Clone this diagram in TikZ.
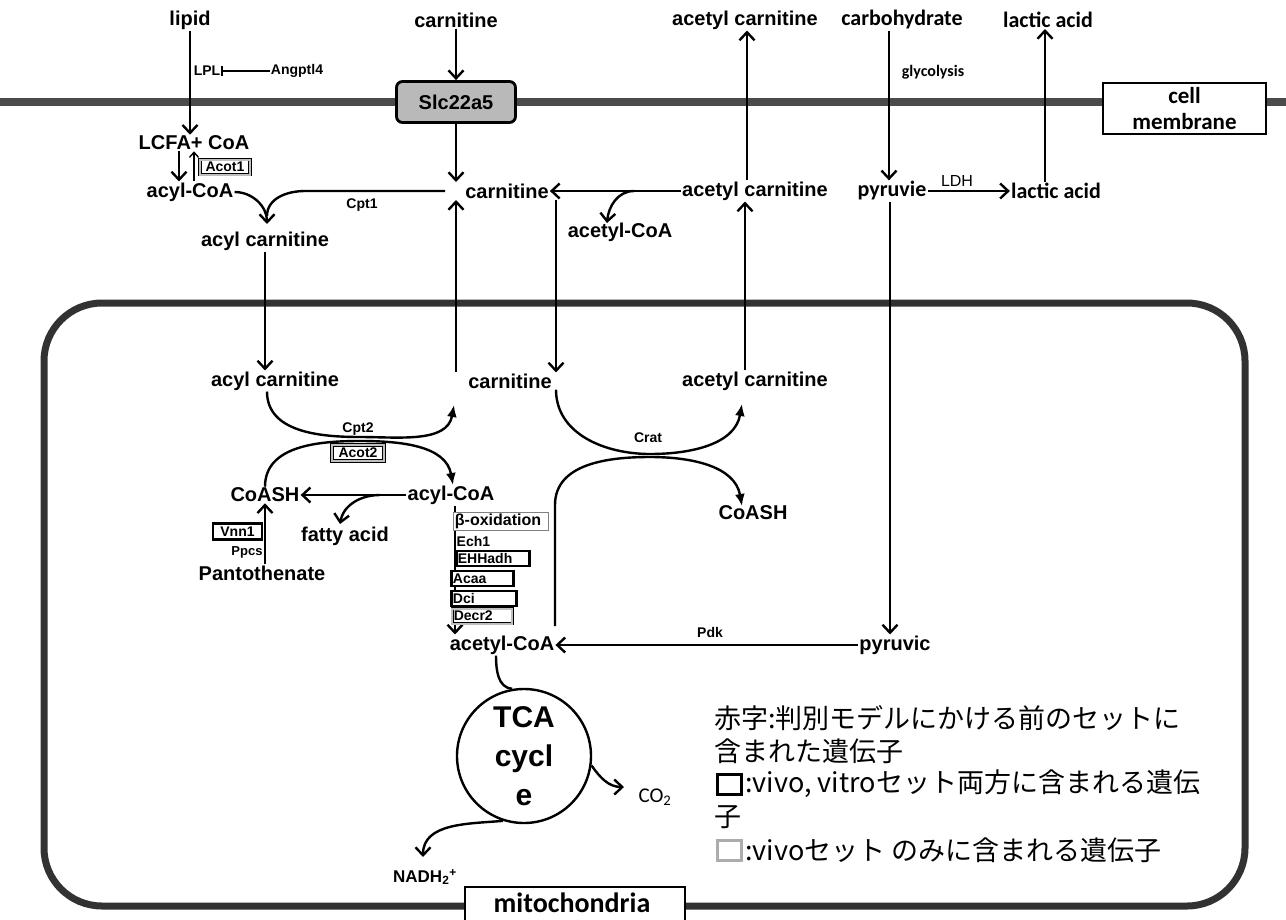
\documentclass[tikz,border=0pt]{standalone}
\usepackage{fontspec}
\setmainfont{Liberation Sans}
\newfontfamily\calfont{Carlito}
\newfontfamily\jpfont{Noto Sans CJK JP}
\usetikzlibrary{arrows.meta}
\definecolor{membc}{RGB}{75,75,75}
\definecolor{mitoc}{RGB}{50,50,50}
\tikzset{
  lab/.style={font=\bfseries\fontsize{20}{22}\selectfont, inner sep=1pt},
  clab/.style={font=\calfont\bfseries\fontsize{22}{24}\selectfont, inner sep=1pt},
  sm/.style={font=\bfseries\fontsize{14}{15}\selectfont, inner sep=1pt},
  enz/.style={font=\bfseries\fontsize{14}{15}\selectfont, inner sep=1.5pt, align=left},
  bothbox/.style={draw=black, line width=2.8pt, fill=white},
  vivobox/.style={draw=black, line width=0.7pt, double=gray!50, double distance=2pt, fill=white},
  arr/.style={line width=2.4pt, -{Straight Barb[length=8pt,width=15pt,line width=2.4pt]}},
  tarr/.style={line width=1.4pt, -{Straight Barb[length=5pt,width=9pt,line width=1.4pt]}},
  farr/.style={line width=2.4pt, -{Latex[length=12pt,width=10pt]}},
  plain/.style={line width=2.4pt},
  leg/.style={font=\jpfont\fontsize{27}{30}\selectfont, inner sep=0pt, anchor=west},
}
\begin{document}
\begin{tikzpicture}[x=1pt,y=-1pt]
\useasboundingbox (0,0) rectangle (1286,919);
% membranes
\draw[line width=8pt, membc] (0,102) -- (1286,102);
\draw[line width=7pt, mitoc, rounded corners=58pt] (44,303) rectangle (1245,906);
% helper x coordinates
\coordinate (x455) at (455,0);
\coordinate (x556) at (556,0);
\coordinate (x745) at (745,0);
\coordinate (x747) at (747,0);
\coordinate (x889) at (889,0);
\coordinate (x890) at (890,0);
\coordinate (x1045) at (1045,0);
% ---------- top row ----------
\node[lab] (lipid) at (190,20) {lipid};
\node[lab] (carn0) at (456,20) {carnitine};
\node[lab] (acar0) at (745,20) {acetyl carnitine};
\node[clab] (carb) at (902,20) {carbohydrate};
\node[clab] (lac0) at (1048,20) {lactic acid};
\node[sm] (lpl) at (207,71) {LPL};
\node[sm] (ang) at (297,71) {Angptl4};
\draw[line width=1.8pt, -{Bar[width=10pt,line width=1.8pt]}] (ang.west) -- (lpl.east);
\node[font=\calfont\bfseries\fontsize{16}{17}\selectfont] (glyc) at (933,72) {glycolysis};
% boxes on membrane
\node[draw, line width=2.8pt, rounded corners=6pt, fill=gray!55, minimum width=119pt, minimum height=41pt, font=\bfseries\fontsize{20}{22}\selectfont] (slc) at (456,102) {Slc22a5};
\node[draw, line width=2.2pt, fill=white, minimum width=163pt, minimum height=51pt, align=center, font=\calfont\bfseries\fontsize{23}{26}\selectfont, inner sep=0pt] (cm) at (1184.5,108.5) {cell\\membrane};
% ---------- cytosol ----------
\node[lab] (lcfa) at (194,143) {LCFA+ CoA};
\node[lab] (acylcoa1) at (190,192) {acyl-CoA};
\node[vivobox, enz, minimum width=50pt, minimum height=15pt, inner sep=0.5pt] (acot1) at (225,167) {Acot1};
\node[lab] (acarn1) at (265,241) {acyl carnitine};
\node[lab] (carn1) at (507,191) {carnitine};
\node[lab] (acar1) at (755,191) {acetyl carnitine};
\node[lab] (acoa1) at (620,232) {acetyl-CoA};
\node[clab] (pyr1) at (892,191) {pyruvie};
\node[clab] (lac1) at (1056,191) {lactic acid};
\node[font=\fontsize{16}{17}\selectfont, inner sep=1pt] (ldh) at (957,181) {LDH};
\node[sm] (cpt1) at (362,205) {Cpt1};
\coordinate (cj) at (456,191);
\coordinate (cptj) at (445,191);
\coordinate (cpt1tip) at (267,224);
\coordinate (br1) at (634,191);
\coordinate (acoa1tip) at (607,223);
% connectors cytosol
\draw[arr] (lipid.south) -- (lipid.south |- lcfa.north);
\draw[arr] (carn0.south) -- (slc.north);
\draw[arr] (slc.south) -- ([yshift=9pt]cj);
\draw[arr] ([xshift=-15pt]lcfa.south) -- ([xshift=-11pt]acylcoa1.north);
\draw[tarr] ([xshift=4pt]acylcoa1.north) -- (lcfa.south);
\draw[arr] (acylcoa1.east) to[out=0,in=90] (cpt1tip);
\draw[plain] (cptj) -- (305,191) to[out=180,in=90] (267,216);
\draw[arr] (acar1.west) -- (carn1.east);
\draw[arr] (br1) to[out=180,in=85] (acoa1tip);
\draw[arr] (acar1.north -| x747) -- (acar0.south -| x747);
\draw[arr] (carb.south -| x889) -- (pyr1.north -| x889);
\draw[arr] (pyr1.east) -- (lac1.west);
\draw[arr] (lac1.north -| x1045) -- (lac0.south -| x1045);
% ---------- mitochondria ----------
\node[lab] (acarn2) at (275,381) {acyl carnitine};
\node[lab] (carn2) at (510,381) {carnitine};
\node[lab] (acar2) at (755,381) {acetyl carnitine};
\node[lab] (coash1) at (265,495) {CoASH};
\node[lab] (acylcoa2) at (451,495) {acyl-CoA};
\node[lab] (fa) at (345,536) {fatty acid};
\node[lab] (pant) at (262,573) {Pantothenate};
\node[lab] (coash2) at (753,513) {CoASH};
\node[lab] (acoa2) at (502,645) {acetyl-CoA};
\node[lab] (pyr2) at (895,645) {pyruvic};
\node[sm] (cpt2) at (358,429) {Cpt2};
\node[sm] (crat) at (648,438) {Crat};
\node[sm] (pdk) at (710,632) {Pdk};
\node[font=\bfseries\fontsize{13}{14}\selectfont, inner sep=0.5pt] (ppcs) at (247,552) {Ppcs};
\coordinate (cpt2x) at (360,437);
\coordinate (cpt2y) at (360,441);
\coordinate (cpt2t1) at (454,405);
\coordinate (cpt2t2) at (453,485);
\coordinate (br2) at (380,495);
\coordinate (fatip) at (340,524);
\coordinate (cratx) at (650,454);
\coordinate (craty) at (650,457);
\coordinate (cratt1) at (742,404);
\coordinate (cratt2) at (742,506);
\coordinate (crats) at (555,626);
% connectors into mitochondria
\draw[arr] (acarn1.south) -- (acarn1.south |- acarn2.north);
\draw[arr] (carn2.north -| cj) -- ([yshift=-9pt]cj);
\draw[arr] (carn1.south -| x556) -- (carn2.north -| x556);
\draw[arr] (acar2.north -| x745) -- (acar1.south -| x745);
\draw[arr] (pyr1.south -| x890) -- (pyr2.north -| x890);
% Cpt2 exchange
\draw[farr] ([xshift=-8pt]acarn2.south) to[out=-90,in=180] (cpt2x) to[out=0,in=-100] (cpt2t1);
\draw[farr] (coash1.north) to[out=90,in=180] (cpt2y) to[out=0,in=100] (cpt2t2);
\node[vivobox, enz, minimum width=52pt, minimum height=16pt, inner sep=0.5pt] (acot2) at (358,453) {Acot2};
\draw[arr] (acylcoa2.west) -- (coash1.east);
\draw[arr] (br2) to[out=180,in=80] (fatip);
\draw[arr] (pant.north -| coash1.south) -- (coash1.south);
\node[bothbox, enz, minimum width=49pt, minimum height=16pt, inner sep=0.5pt] (vnn1) at (237.5,531.5) {Vnn1};
% beta oxidation
\draw[arr] (acylcoa2.south -| x455) -- (acoa2.north -| x455);
\node[draw=gray, line width=0.9pt, fill=white, enz, font=\bfseries\fontsize{16}{17}\selectfont, anchor=west, text width=92pt, minimum height=18pt] (beta) at (453,521.5) {β-oxidation};
\node[enz, anchor=west, fill=white, inner sep=0.5pt] (ech1) at (456,541) {Ech1};
\node[bothbox, enz, anchor=west, text width=70pt, minimum height=15pt] (ehhadh) at (455,558.5) {EHHadh};
\node[bothbox, enz, anchor=west, text width=59pt, minimum height=15pt] (acaa) at (450,578.5) {Acaa};
\node[bothbox, enz, anchor=west, text width=62pt, minimum height=15pt] (dci) at (450,598.5) {Dci};
\node[vivobox, enz, anchor=west, text width=57pt, minimum height=15pt] (decr2) at (452,616) {Decr2};
% Crat exchange
\draw[farr] (carn2.south -| x556) to[out=-90,in=180] (cratx) to[out=0,in=-100] (cratt1);
\draw[farr] (crats) -- (555,505) to[out=90,in=180] (craty) to[out=0,in=100] (cratt2);
\draw[arr] (pyr2.west) -- (acoa2.east);
% TCA
\node[circle, draw, line width=2.4pt, minimum size=134pt, inner sep=0pt, align=center, font=\bfseries\fontsize{30}{39}\selectfont] (tca) at (524,756) {TCA\\cycl\\e};
\draw[plain] ([xshift=-6pt]acoa2.south) to[out=-90,in=175] (tca.100);
\draw[arr] (tca.-8) to[out=-55,in=180] (624,787) coordinate (co2tip);
\node[font=\calfont\fontsize{21}{22}\selectfont, inner sep=1pt] (co2) at (655,797) {CO\textsubscript{2}};
\draw[arr] (tca.-108) to[out=185,in=90] (423,857) coordinate (nadhtip);
\node[font=\bfseries\fontsize{17}{18}\selectfont, inner sep=1pt] (nadh) at (425,877) {NADH\textsubscript{2}\textsuperscript{+}};
% mitochondria label
\node[draw, line width=2.2pt, fill=white, minimum width=220pt, minimum height=40pt, inner sep=0pt] (mito) at (575,907) {};
\node[font=\calfont\bfseries\fontsize{28}{30}\selectfont, inner sep=0pt] (mitotxt) at (572,903) {mitochondria};
% legend
\node[leg] (leg1) at (714,718) {赤字:判別モデルにかける前のセットに};
\node[leg] (leg2) at (714,751) {含まれた遺伝子};
\node[draw=black, line width=3pt, minimum width=24pt, minimum height=20pt, inner sep=0pt] (lb1) at (729,784) {};
\node[leg] (leg3) at (745,784) {:vivo, vitroセット両方に含まれる遺伝};
\node[leg] (leg4) at (714,817) {子};
\node[draw=gray!65, line width=3pt, minimum width=24pt, minimum height=20pt, inner sep=0pt] (lb2) at (729,850) {};
\node[leg] (leg5) at (745,850) {:vivoセット のみに含まれる遺伝子};
\end{tikzpicture}
\end{document}
